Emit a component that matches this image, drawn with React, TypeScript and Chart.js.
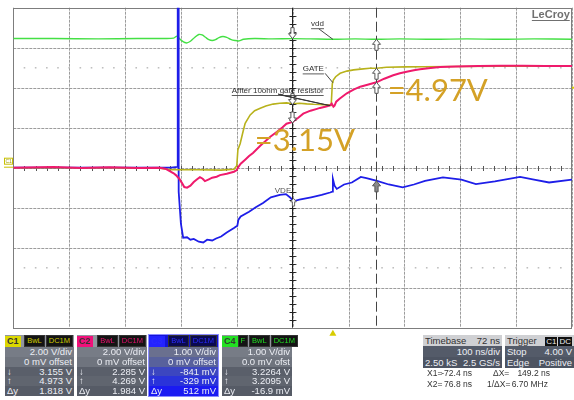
import React, { useEffect, useRef } from "react";
import { Chart, registerables } from "chart.js";
Chart.register(...registerables);

// ---- time axis (ns), 100 ns/div, 10 div; vertical 8 div ----
const X_MIN = -572;
const X_MAX = 428;
const timeGrid = [-572, -472, -372, -272, -172, -72, 28, 128, 228, 328, 428];
const divGrid = [-4, -3, -2, -1, 0, 1, 2, 3, 4];
const dottedDivRows = [2.5, -2.5];
const centerTime = -72;
const cursorX1 = -72.4;
const cursorX2 = 76.8;
const triggerTime = 0;
const triggerLevel = 4.0;

// ---- C1 (GATE, yellow, 2 V/div) ----
const c1Times = [-572, -400, -310, -290, -240, -200, -177, -172, -170, -166, -163, -160, -157, -152, -148, -140, -130, -120, -107, -95, -83, -72, -60, -47, -35, -23, -12, -5, -3, -1, 1, 5, 13, 25, 37, 50, 66, 78, 96, 130, 160, 220, 300, 428];
const c1Volts = [0, 0, -0.03, -0.1, -0.1, -0.12, -0.08, 0.1, 0.9, 1.2, 1.55, 1.9, 2.22, 2.45, 2.64, 2.85, 2.97, 3.08, 3.18, 3.22, 3.24, 3.2, 3.22, 3.19, 3.17, 3.16, 3.14, 3.13, 3.12, 4.2, 4.39, 4.55, 4.72, 4.83, 4.89, 4.93, 4.97, 4.973, 5.02, 5.04, 5.05, 5.06, 5.07, 5.07];

// ---- C2 (red, 2 V/div) ----
const c2Times = [-572, -500, -450, -400, -350, -310, -300, -292, -285, -281, -275, -270, -266, -261, -255, -249, -243, -238, -233, -229, -222, -216, -208, -202, -190, -177, -172, -170, -165, -157, -150, -143, -130, -120, -112, -100, -90, -83, -72, -62, -53, -40, -30, -23, -12, -5, -2, 1, 3, 6, 12, 25, 37, 49, 62, 78, 92, 108, 120, 132, 145, 156, 175, 192, 220, 260, 300, 340, 380, 428];
const c2Volts = [0, 0.03, -0.02, 0.02, -0.01, 0, -0.05, -0.17, -0.28, -0.37, -0.55, -0.77, -0.97, -1.0, -0.9, -0.72, -0.58, -0.47, -0.55, -0.67, -0.58, -0.5, -0.45, -0.37, -0.3, -0.2, -0.12, 0.0, 0.2, 0.4, 0.58, 0.74, 1.1, 1.35, 1.55, 1.8, 2.02, 2.2, 2.29, 2.5, 2.7, 2.85, 2.93, 2.99, 3.06, 3.12, 3.2, 3.05, 3.1, 3.3, 3.45, 3.72, 3.9, 4.05, 4.15, 4.27, 4.45, 4.62, 4.72, 4.8, 4.87, 4.92, 4.98, 5.03, 5.06, 5.08, 5.1, 5.1, 5.09, 5.08];

// ---- C3 (VDE, blue, 1 V/div) ----
const c3Times = [-572, -290, -278, -277.7, -277.2, -276, -272, -268, -261, -255, -249, -240, -232, -225, -216, -209, -200, -190, -177, -171, -169, -165, -150, -138, -125, -111, -95, -84, -76, -71, -60, -39, -20, -5, -1, 0, 3, 7, 20, 34, 50, 60, 79, 100, 125, 145, 165, 197, 230, 256, 290, 335, 360, 387, 428];
const c3Volts = [0, 0, 0.02, 6, 6, -0.6, -1.4, -1.75, -1.74, -1.8, -1.78, -1.85, -1.87, -1.8, -1.82, -1.77, -1.72, -1.62, -1.51, -1.45, -1.3, -1.22, -1.1, -0.99, -0.88, -0.74, -0.68, -0.66, -0.75, -0.84, -0.8, -0.74, -0.68, -0.62, -0.6, -0.28, -0.45, -0.53, -0.42, -0.37, -0.23, -0.26, -0.33, -0.42, -0.49, -0.42, -0.33, -0.24, -0.3, -0.41, -0.34, -0.23, -0.3, -0.37, -0.3];

// ---- C4 (vdd, green, 1 V/div) ----
const c4Times = [-572, -500, -420, -350, -300, -285, -279, -275, -270, -265, -261, -255, -248, -240, -234, -228, -222, -216, -210, -204, -197, -190, -183, -175, -168, -160, -140, -110, -72, -40, 0, 40, 77, 120, 180, 240, 300, 360, 428];
const c4Volts = [3.23, 3.23, 3.22, 3.23, 3.23, 3.24, 3.29, 3.23, 3.17, 3.13, 3.12, 3.16, 3.25, 3.33, 3.32, 3.26, 3.2, 3.18, 3.2, 3.25, 3.28, 3.26, 3.21, 3.18, 3.17, 3.21, 3.23, 3.22, 3.226, 3.22, 3.21, 3.22, 3.21, 3.22, 3.21, 3.22, 3.21, 3.22, 3.21];

// ---- cursor readings ----
const c1Cursor = [3.155, 4.973];
const c2Cursor = [2.285, 4.269];
const c3Cursor = [-0.841, -0.329];
const c4Cursor = [3.2264, 3.2095];

// ---- bottom panel texts ----
const channelNames = ["C1", "C2", "C3", "C4"];
const channelTags = [["BwL", "DC1M"], ["BwL", "DC1M"], ["BwL", "DC1M"], ["F", "BwL", "DC1M"]];
const channelVdiv = ["2.00 V/div", "2.00 V/div", "1.00 V/div", "1.00 V/div"];
const channelOffset = ["0 mV offset", "0 mV offset", "0 mV offset", "0.0 mV ofst"];
const channelY1 = ["3.155 V", "2.285 V", "-841 mV", "3.2264 V"];
const channelY2 = ["4.973 V", "4.269 V", "-329 mV", "3.2095 V"];
const channelDy = ["1.818 V", "1.984 V", "512 mV", "-16.9 mV"];
const channelColors = ["#dcd800", "#f0107a", "#2323ff", "#22e022"];
const channelTagText = ["#cfcb00", "#e8106e", "#2a2aff", "#22dd22"];
const boxLefts = [5, 77, 149, 222];
const boxWidths = [69, 70, 69, 70];

const C1_COLOR = "#b8b21c";
const C2_COLOR = "#ef1a6c";
const C3_COLOR = "#1e1ee8";
const C4_COLOR = "#44e044";
const NOTE_COLOR = "#d4a126";

const toPts = (ts: number[], vs: number[]) => ts.map((t, i) => ({ x: t, y: vs[i] }));

function drawArrow(ctx: CanvasRenderingContext2D, x: number, tipY: number, dir: number, fill: string, stroke: string, scale = 1) {
  const L = 11 * scale, hw = 4 * scale, sw = 1.6 * scale, hl = 5 * scale;
  const s = -dir;
  ctx.beginPath();
  ctx.moveTo(x, tipY);
  ctx.lineTo(x - hw, tipY + s * hl);
  ctx.lineTo(x - sw, tipY + s * hl);
  ctx.lineTo(x - sw, tipY + s * L);
  ctx.lineTo(x + sw, tipY + s * L);
  ctx.lineTo(x + sw, tipY + s * hl);
  ctx.lineTo(x + hw, tipY + s * hl);
  ctx.closePath();
  ctx.fillStyle = fill;
  ctx.fill();
  ctx.lineWidth = 1;
  ctx.strokeStyle = stroke;
  ctx.stroke();
}

function underlined(ctx: CanvasRenderingContext2D, text: string, x: number, y: number, font: string, color: string) {
  ctx.font = font;
  ctx.fillStyle = color;
  ctx.textBaseline = "middle";
  ctx.textAlign = "left";
  ctx.fillText(text, x, y);
  const w = ctx.measureText(text).width;
  ctx.strokeStyle = color;
  ctx.lineWidth = 0.8;
  ctx.beginPath();
  ctx.moveTo(x, y + 5);
  ctx.lineTo(x + w, y + 5);
  ctx.stroke();
}

const scopePlugin = {
  id: "scope",
  beforeDatasetsDraw(chart: any) {
    const { ctx, chartArea: a, scales } = chart;
    const xs = scales.x, yd = scales.yDiv;
    ctx.save();
    ctx.fillStyle = "#ffffff";
    ctx.fillRect(a.left, a.top, a.right - a.left, a.bottom - a.top);
    // graticule
    ctx.strokeStyle = "#9c9c9c";
    ctx.lineWidth = 1;
    ctx.setLineDash([3, 1]);
    timeGrid.forEach((t) => {
      const x = Math.round(xs.getPixelForValue(t)) + 0.5;
      ctx.beginPath(); ctx.moveTo(x, a.top); ctx.lineTo(x, a.bottom); ctx.stroke();
    });
    divGrid.forEach((d) => {
      const y = Math.round(yd.getPixelForValue(d)) + 0.5;
      ctx.beginPath(); ctx.moveTo(a.left, y); ctx.lineTo(a.right, y); ctx.stroke();
    });
    ctx.setLineDash([]);
    // dotted rows
    ctx.fillStyle = "#b8b8b8";
    dottedDivRows.forEach((d) => {
      const y = yd.getPixelForValue(d);
      for (let t = X_MIN + 20; t < X_MAX; t += 20) {
        const x = xs.getPixelForValue(t);
        ctx.fillRect(x - 0.8, y - 0.6, 1.6, 1.4);
      }
    });
    // centre axis ticks
    ctx.strokeStyle = "#555";
    ctx.lineWidth = 1;
    const yc = Math.round(yd.getPixelForValue(0)) + 0.5;
    for (let t = X_MIN + 20; t < X_MAX; t += 20) {
      const x = Math.round(xs.getPixelForValue(t)) + 0.5;
      ctx.beginPath(); ctx.moveTo(x, yc - 2.5); ctx.lineTo(x, yc + 2.5); ctx.stroke();
    }
    const xc = Math.round(xs.getPixelForValue(centerTime)) + 0.5;
    for (let d = -4 + 0.2; d < 4; d += 0.2) {
      const y = Math.round(yd.getPixelForValue(d)) + 0.5;
      ctx.beginPath(); ctx.moveTo(xc - 3, y); ctx.lineTo(xc + 3, y); ctx.stroke();
    }
    // border
    ctx.strokeStyle = "#7d7d7d";
    ctx.strokeRect(Math.round(a.left) + 0.5, Math.round(a.top) + 0.5, Math.round(a.right - a.left) - 1, Math.round(a.bottom - a.top));
    ctx.restore();
  },
  afterDatasetsDraw(chart: any) {
    const { ctx, chartArea: a, scales } = chart;
    const xs = scales.x, yd = scales.yDiv;
    const y1 = scales.yC1, y2 = scales.yC2, y3 = scales.yC3, y4 = scales.yC4;
    ctx.save();
    // cursor X1 (solid) and X2 (dashed)
    const cx1 = Math.round(xs.getPixelForValue(cursorX1)) + 0.5;
    const cx2 = Math.round(xs.getPixelForValue(cursorX2)) + 0.5;
    ctx.strokeStyle = "#222";
    ctx.lineWidth = 1;
    ctx.beginPath(); ctx.moveTo(cx1, a.top); ctx.lineTo(cx1, a.bottom); ctx.stroke();
    for (let d = -4 + 0.2; d < 4; d += 0.2) {
      const y = Math.round(yd.getPixelForValue(d)) + 0.5;
      ctx.beginPath(); ctx.moveTo(cx1 - 3, y); ctx.lineTo(cx1 + 3, y); ctx.stroke();
    }
    ctx.strokeStyle = "#444";
    ctx.setLineDash([10, 4]);
    ctx.beginPath(); ctx.moveTo(cx2, a.top); ctx.lineTo(cx2, a.bottom); ctx.stroke();
    ctx.setLineDash([]);

    // cursor markers
    drawArrow(ctx, cx1, y4.getPixelForValue(c4Cursor[0]), 1, "#fff", "#555");
    drawArrow(ctx, cx1, y1.getPixelForValue(c1Cursor[0]), 1, "#fff", "#555");
    drawArrow(ctx, cx1, y2.getPixelForValue(c2Cursor[0]) + 1, 1, "#fff", "#555");
    drawArrow(ctx, cx1 + 1, y3.getPixelForValue(c3Cursor[0]) - 3, -1, "#fff", "#666", 0.7);
    drawArrow(ctx, cx2, y4.getPixelForValue(c4Cursor[1]), -1, "#fff", "#555");
    drawArrow(ctx, cx2, y1.getPixelForValue(c1Cursor[1]), -1, "#fff", "#555");
    drawArrow(ctx, cx2, y2.getPixelForValue(c2Cursor[1]), -1, "#fff", "#555");
    drawArrow(ctx, cx2, y3.getPixelForValue(c3Cursor[1]), -1, "#8a8a8a", "#555");

    const px = (t: number) => xs.getPixelForValue(t);
    const pd = (d: number) => yd.getPixelForValue(d);

    // leader lines
    ctx.strokeStyle = "#333";
    ctx.lineWidth = 0.9;
    ctx.beginPath(); ctx.moveTo(px(-25), pd(3.47)); ctx.lineTo(px(0), y4.getPixelForValue(3.21)); ctx.stroke();
    ctx.beginPath(); ctx.moveTo(px(-14), pd(2.36)); ctx.lineTo(px(0), y1.getPixelForValue(4.25)); ctx.stroke();
    ctx.fillStyle = "#222";
    ctx.beginPath();
    ctx.moveTo(px(-98), pd(1.84));
    ctx.lineTo(px(-88), pd(1.8));
    ctx.lineTo(px(-5), y1.getPixelForValue(3.1));
    ctx.closePath();
    ctx.fill();
    ctx.stroke();

    // labels
    underlined(ctx, "vdd", px(-39), pd(3.6), "8px 'Liberation Sans'", "#333");
    underlined(ctx, "GATE", px(-54), pd(2.47), "8px 'Liberation Sans'", "#333");
    underlined(ctx, "Affter 10ohm gate resistor", px(-181), pd(1.93), "8px 'Liberation Sans'", "#333");
    ctx.font = "8px 'Liberation Sans'";
    ctx.fillStyle = "#555";
    ctx.textBaseline = "middle";
    ctx.fillText("VDE", px(-104), pd(-0.58));

    // big annotations
    ctx.font = "31px Lato";
    ctx.fillStyle = NOTE_COLOR;
    ctx.textBaseline = "alphabetic";
    ctx.fillText("=4.97V", px(98), pd(1.66));
    ctx.fillText("=3.15V", px(-140), pd(0.42));

    // LeCroy
    ctx.font = "bold 11px 'Liberation Sans'";
    ctx.fillStyle = "#707070";
    ctx.textAlign = "right";
    ctx.textBaseline = "middle";
    ctx.fillText("LeCroy", px(424), pd(3.83));
    const lw = ctx.measureText("LeCroy").width;
    ctx.strokeStyle = "#707070";
    ctx.lineWidth = 1;
    ctx.beginPath(); ctx.moveTo(px(424) - lw, pd(3.83) + 6); ctx.lineTo(px(424), pd(3.83) + 6); ctx.stroke();

    // trigger markers
    const tx = xs.getPixelForValue(triggerTime);
    ctx.fillStyle = "#d8cc00";
    ctx.beginPath(); ctx.moveTo(tx, a.bottom + 2); ctx.lineTo(tx - 3.5, a.bottom + 8); ctx.lineTo(tx + 3.5, a.bottom + 8); ctx.closePath(); ctx.fill();
    const ty = y1.getPixelForValue(triggerLevel);
    ctx.fillRect(a.right, ty - 1, 3, 2);

    // ground marker
    const gy = y1.getPixelForValue(0);
    ctx.strokeStyle = "#c8c000";
    ctx.lineWidth = 1;
    ctx.strokeRect(4.5, gy - 9.5, 8, 6);
    ctx.font = "5px 'Liberation Sans'";
    ctx.fillStyle = "#a09a00";
    ctx.textAlign = "left";
    ctx.fillText("C1", 5.5, gy - 6.5);
    ctx.beginPath(); ctx.moveTo(4, gy - 0.5); ctx.lineTo(a.left, gy - 0.5); ctx.stroke();
    ctx.restore();
  },
};

function ChannelBox({ i }: { i: number }) {
  const isC3 = i === 2;
  const rowH = 9.8;
  const rowStyle = (bg: string): React.CSSProperties => ({
    height: rowH, lineHeight: rowH + "px", background: bg, display: "flex", justifyContent: "space-between", padding: "0 2px 0 2px",
  });
  const bgs = isC3
    ? ["#6a708f", "#58619c", "#3c46c0", "#2a33da", "#1a1af2"]
    : ["#777c86", "#6f747e", "#5a5f6a", "#60656f", "#565b66"];
  return (
    <div style={{ position: "absolute", left: boxLefts[i], top: 335, width: boxWidths[i], height: 61, outline: isC3 ? "1px solid #8b8bff" : "none", color: "#eceef4", fontFamily: "'Liberation Sans', Arial, sans-serif", fontSize: 9.5 }}>
      <div style={{ height: 12, background: isC3 ? "#1414d8" : "#92969e", display: "flex", alignItems: "center", justifyContent: "space-between" }}>
        <span style={{ background: channelColors[i], color: isC3 ? "#2a2aff" : "#333", fontWeight: "bold", fontSize: 9, padding: "0 2px", height: 11, lineHeight: "11px", marginLeft: 0 }}>{channelNames[i]}</span>
        <span style={{ display: "flex", gap: 1, marginRight: 1 }}>
          {channelTags[i].map((tg, k) => (
            <span key={k} style={{ background: isC3 ? "#0a0a50" : "#141414", color: channelTagText[i], fontSize: 7.5, padding: "0 2px", height: 10, lineHeight: "10px", border: "1px solid #333" }}>{tg}</span>
          ))}
        </span>
      </div>
      <div style={{ ...rowStyle(bgs[0]), justifyContent: "flex-end" }}>{channelVdiv[i]}</div>
      <div style={{ ...rowStyle(bgs[1]), justifyContent: "flex-end" }}>{channelOffset[i]}</div>
      <div style={rowStyle(bgs[2])}><span>↓</span><span>{channelY1[i]}</span></div>
      <div style={rowStyle(bgs[3])}><span>↑</span><span>{channelY2[i]}</span></div>
      <div style={rowStyle(bgs[4])}><span>Δy</span><span>{channelDy[i]}</span></div>
    </div>
  );
}

function InfoBox({ left, width, title, titleRight, rows }: { left: number; width: number; title: string; titleRight: React.ReactNode; rows: [string, string][] }) {
  return (
    <div style={{ position: "absolute", left, top: 335, width, height: 33, fontFamily: "'Liberation Sans', Arial, sans-serif", fontSize: 9.5 }}>
      <div style={{ height: 11, lineHeight: "11px", background: "#cfd0d3", color: "#333", display: "flex", justifyContent: "space-between", padding: "0 2px" }}>
        <span>{title}</span><span>{titleRight}</span>
      </div>
      {rows.map((r, k) => (
        <div key={k} style={{ height: 11, lineHeight: "11px", background: k === 0 ? "#545b69" : "#4d5462", color: "#eceef4", display: "flex", justifyContent: "space-between", padding: "0 2px" }}>
          <span>{r[0]}</span><span>{r[1]}</span>
        </div>
      ))}
    </div>
  );
}

export default function App() {
  const ref = useRef<HTMLCanvasElement | null>(null);
  useEffect(() => {
    if (!ref.current) return;
    const chart = new Chart(ref.current, {
      type: "line",
      data: {
        datasets: [
          { label: "C2", data: toPts(c2Times, c2Volts), yAxisID: "yC2", borderColor: C2_COLOR, borderWidth: 2, pointRadius: 0, tension: 0 },
          { label: "C1", data: toPts(c1Times, c1Volts), yAxisID: "yC1", borderColor: C1_COLOR, borderWidth: 1.6, pointRadius: 0, tension: 0 },
          { label: "C3", data: toPts(c3Times, c3Volts), yAxisID: "yC3", borderColor: C3_COLOR, borderWidth: 1.8, pointRadius: 0, tension: 0 },
          { label: "C4", data: toPts(c4Times, c4Volts), yAxisID: "yC4", borderColor: C4_COLOR, borderWidth: 1.4, pointRadius: 0, tension: 0.3 },
        ],
      },
      options: {
        animation: false,
        responsive: true,
        maintainAspectRatio: false,
        layout: { padding: { left: 13.3, top: 7.7, right: 2, bottom: 72.3 } },
        plugins: { legend: { display: false }, tooltip: { enabled: false }, title: { display: false } },
        scales: {
          x: { type: "linear", min: X_MIN, max: X_MAX, display: false },
          yDiv: { type: "linear", min: -4, max: 4, display: false },
          yC1: { type: "linear", min: -8, max: 8, display: false },
          yC2: { type: "linear", min: -8, max: 8, display: false },
          yC3: { type: "linear", min: -4, max: 4, display: false },
          yC4: { type: "linear", min: -4, max: 4, display: false },
        },
        events: [],
      },
      plugins: [scopePlugin],
    } as any);
    return () => chart.destroy();
  }, []);

  const readout: React.CSSProperties = { position: "absolute", whiteSpace: "nowrap" };
  return (
    <div style={{ position: "fixed", left: 0, top: 0, width: 574, height: 400, background: "#fff", overflow: "hidden" }}>
      <canvas ref={ref} width={574} height={400} style={{ position: "absolute", left: 0, top: 0, width: 574, height: 400 }} />
      {[0, 1, 2, 3].map((i) => <ChannelBox key={i} i={i} />)}
      <InfoBox left={423} width={79} title="Timebase" titleRight="72 ns" rows={[["", "100 ns/div"], ["2.50 kS", "2.5 GS/s"]]} />
      <InfoBox left={505} width={69} title="Trigger" titleRight={<span><span style={{ background: "#111", color: "#eee", padding: "0 1px", fontSize: 8 }}>C1</span><span style={{ background: "#111", color: "#eee", padding: "0 1px", fontSize: 8, marginLeft: 1 }}>DC</span></span>} rows={[["Stop", "4.00 V"], ["Edge", "Positive"]]} />
      <div style={{ position: "absolute", left: 427, top: 368, width: 147, height: 24, fontFamily: "'Liberation Sans', Arial, sans-serif", fontSize: 8.5, color: "#333", lineHeight: "11px" }}>
        <span style={{ ...readout, left: 0, top: 0 }}>X1=</span>
        <span style={{ ...readout, right: 102, top: 0 }}>-72.4 ns</span>
        <span style={{ ...readout, left: 66, top: 0 }}>ΔX=</span>
        <span style={{ ...readout, right: 24, top: 0 }}>149.2 ns</span>
        <span style={{ ...readout, left: 0, top: 11 }}>X2=</span>
        <span style={{ ...readout, right: 102, top: 11 }}>76.8 ns</span>
        <span style={{ ...readout, left: 60, top: 11 }}>1/ΔX=</span>
        <span style={{ ...readout, right: 26, top: 11 }}>6.70 MHz</span>
      </div>
    </div>
  );
}
